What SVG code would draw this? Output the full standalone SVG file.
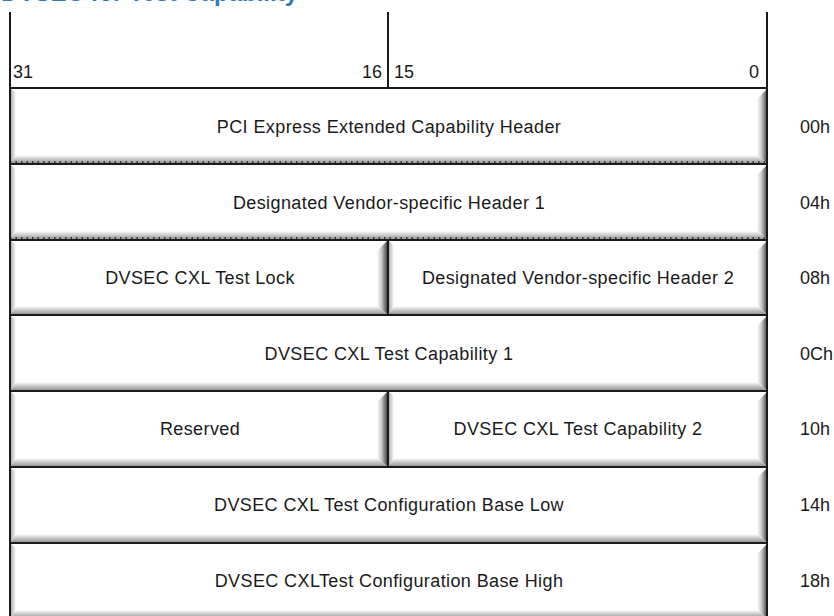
<svg xmlns="http://www.w3.org/2000/svg" width="834" height="616" viewBox="0 0 834 616">
<defs>
<linearGradient id="gR" x1="0" y1="0" x2="1" y2="0"><stop offset="0" stop-color="#ffffff"/><stop offset="0.45" stop-color="#c8c8c8"/><stop offset="1" stop-color="#4a4a4a"/></linearGradient>
<linearGradient id="gB" x1="0" y1="0" x2="0" y2="1"><stop offset="0" stop-color="#ffffff"/><stop offset="1" stop-color="#969696"/></linearGradient>
<linearGradient id="gL" x1="0" y1="0" x2="1" y2="0"><stop offset="0" stop-color="#b0b0b0"/><stop offset="1" stop-color="#ffffff"/></linearGradient>
</defs>
<style>
.base{fill:#ffffff}
.r{fill:url(#gR)}
.b{fill:url(#gB)}
.l{fill:url(#gL)}
.t{font-family:"Liberation Sans",Arial,sans-serif;font-size:18px;letter-spacing:0.4px;fill:#1a1a1a;text-anchor:middle}
.n{font-family:"Liberation Sans",Arial,sans-serif;font-size:18px;fill:#1a1a1a}
.ln{stroke:#1a1a1a;stroke-width:2;fill:none}
.dot{stroke:#1a1a1a;stroke-width:1.5;stroke-dasharray:1.5 4;fill:none}
.title{font-family:"Liberation Sans",Arial,sans-serif;font-size:24px;font-weight:bold;fill:#2b7bbd;text-anchor:end}
</style>
<rect width="834" height="616" fill="#ffffff"/>
<text class="title" x="298" y="1">DVSEC for Test Capability</text>

<g id="header">
<text class="n" x="13" y="78">31</text>
<text class="n" x="382" y="78" text-anchor="end">16</text>
<text class="n" x="394" y="78">15</text>
<text class="n" x="759" y="78" text-anchor="end">0</text>
</g>

<g id="reg00h">
<rect class="base" x="11" y="89" width="756" height="74"/>
<polygon class="l" points="11,89 16,93 16,155 11,163"/>
<polygon class="b" points="11,163 767,163 757,155 16,155"/>
<polygon class="r" points="767,89 767,163 757,155 757,99"/>
<text class="t" x="389" y="133">PCI Express Extended Capability Header</text>
<text class="n" x="800" y="133">00h</text>
</g>

<g id="reg04h">
<rect class="base" x="11" y="165" width="756" height="74"/>
<polygon class="l" points="11,165 16,169 16,231 11,239"/>
<polygon class="b" points="11,239 767,239 757,231 16,231"/>
<polygon class="r" points="767,165 767,239 757,231 757,175"/>
<text class="t" x="389" y="209">Designated Vendor-specific Header 1</text>
<text class="n" x="800" y="209">04h</text>
</g>

<g id="reg08h_lock">
<rect class="base" x="11" y="241" width="376" height="73"/>
<polygon class="l" points="11,241 16,245 16,306 11,314"/>
<polygon class="b" points="11,314 387,314 377,306 16,306"/>
<polygon class="r" points="387,241 387,314 377,306 377,251"/>
<text class="t" x="200" y="284">DVSEC CXL Test Lock</text>
</g>

<g id="reg08h_dvsec2">
<rect class="base" x="389" y="241" width="378" height="73"/>
<polygon class="l" points="389,241 394,245 394,306 389,314"/>
<polygon class="b" points="389,314 767,314 757,306 394,306"/>
<polygon class="r" points="767,241 767,314 757,306 757,251"/>
<text class="t" x="578" y="284">Designated Vendor-specific Header 2</text>
<text class="n" x="800" y="284">08h</text>
</g>

<g id="reg0Ch">
<rect class="base" x="11" y="316" width="756" height="74"/>
<polygon class="l" points="11,316 16,320 16,382 11,390"/>
<polygon class="b" points="11,390 767,390 757,382 16,382"/>
<polygon class="r" points="767,316 767,390 757,382 757,326"/>
<text class="t" x="389" y="360">DVSEC CXL Test Capability 1</text>
<text class="n" x="800" y="360">0Ch</text>
</g>

<g id="reg10h_reserved">
<rect class="base" x="11" y="392" width="376" height="74"/>
<polygon class="l" points="11,392 16,396 16,458 11,466"/>
<polygon class="b" points="11,466 387,466 377,458 16,458"/>
<polygon class="r" points="387,392 387,466 377,458 377,402"/>
<text class="t" x="200" y="435">Reserved</text>
</g>

<g id="reg10h_cap2">
<rect class="base" x="389" y="392" width="378" height="74"/>
<polygon class="l" points="389,392 394,396 394,458 389,466"/>
<polygon class="b" points="389,466 767,466 757,458 394,458"/>
<polygon class="r" points="767,392 767,466 757,458 757,402"/>
<text class="t" x="578" y="435">DVSEC CXL Test Capability 2</text>
<text class="n" x="800" y="435">10h</text>
</g>

<g id="reg14h">
<rect class="base" x="11" y="468" width="756" height="74"/>
<polygon class="l" points="11,468 16,472 16,534 11,542"/>
<polygon class="b" points="11,542 767,542 757,534 16,534"/>
<polygon class="r" points="767,468 767,542 757,534 757,478"/>
<text class="t" x="389" y="511">DVSEC CXL Test Configuration Base Low</text>
<text class="n" x="800" y="511">14h</text>
</g>

<g id="reg18h">
<rect class="base" x="11" y="544" width="756" height="74"/>
<polygon class="l" points="11,544 16,548 16,610 11,618"/>
<polygon class="b" points="11,618 767,618 757,610 16,610"/>
<polygon class="r" points="767,544 767,618 757,610 757,554"/>
<text class="t" x="389" y="587">DVSEC CXLTest Configuration Base High</text>
<text class="n" x="800" y="587">18h</text>
</g>

<g id="lines">
<line class="ln" x1="10" y1="12" x2="10" y2="616"/>
<line class="ln" x1="767" y1="12" x2="767" y2="616"/>
<line class="ln" x1="388" y1="12" x2="388" y2="88"/>
<line class="ln" x1="388" y1="240" x2="388" y2="315"/>
<line class="ln" x1="388" y1="391" x2="388" y2="467"/>
<line class="ln" x1="10" y1="88" x2="767" y2="88"/>
<line class="ln" x1="10" y1="164" x2="767" y2="164"/>
<line class="dot" x1="10" y1="162" x2="767" y2="162"/>
<line class="ln" x1="10" y1="240" x2="767" y2="240"/>
<line class="dot" x1="10" y1="238" x2="767" y2="238"/>
<line class="ln" x1="10" y1="315" x2="767" y2="315"/>
<line class="ln" x1="10" y1="391" x2="767" y2="391"/>
<line class="ln" x1="10" y1="467" x2="767" y2="467"/>
<line class="ln" x1="10" y1="543" x2="767" y2="543"/>
</g>
</svg>
